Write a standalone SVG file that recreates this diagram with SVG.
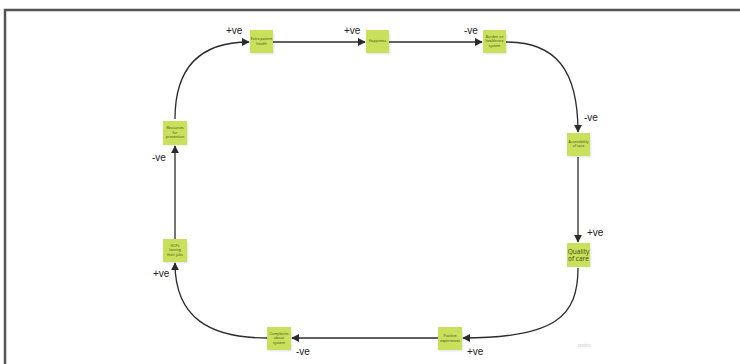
<svg xmlns="http://www.w3.org/2000/svg" width="740" height="364" viewBox="0 0 740 364">
  <style>
    .note rect.paper { fill: #c8e05c; }
    .note rect.shadow { fill: #000; opacity: 0.12; }
    .note text { font-family: "Open Sans", "Liberation Sans", sans-serif; font-size: 3.6px; fill: #3d4a10; text-anchor: middle; }
    .note text.big { font-size: 6.5px; }
    .lbl { font-family: "Liberation Sans", "Open Sans", sans-serif; font-size: 10px; fill: #222; }
    .conn path { fill: none; stroke: #2b2b2b; stroke-width: 1.3; marker-end: url(#arr); }
  </style>
  <defs>
    <marker id="arr" viewBox="0 0 10 10" refX="9" refY="5" markerWidth="8" markerHeight="8" orient="auto" markerUnits="userSpaceOnUse">
      <path d="M0,0 L10,5 L0,10 z" fill="#2b2b2b"/>
    </marker>
    <filter id="soft" x="-30%" y="-30%" width="160%" height="160%">
      <feGaussianBlur stdDeviation="1"/>
    </filter>
  </defs>

  <rect width="740" height="364" fill="#ffffff"/>
  <!-- frame -->
  <path d="M740,10 L5,10 L5,364" fill="none" stroke="#555" stroke-width="2.5"/>

  <!-- connectors -->
  <g id="connectors" class="conn">
    <path d="M175,119 C175,68 200,42 249,42"/>
    <path d="M273,42 L365,42"/>
    <path d="M389,42 L482,42"/>
    <path d="M506,42 C556,42 578,70 578,132"/>
    <path d="M578,157 L578,242"/>
    <path d="M578,268 C578,316 556,338 463,338"/>
    <path d="M438,338 L292,338"/>
    <path d="M267,338 C210,338 175,318 175,263"/>
    <path d="M175,239 L175,146"/>
  </g>

  <!-- polarity labels -->
  <g id="labels" class="lbl">
    <text x="226" y="34">+ve</text>
    <text x="344" y="34">+ve</text>
    <text x="464" y="34">-ve</text>
    <text x="584" y="121">-ve</text>
    <text x="587" y="236">+ve</text>
    <text x="467" y="355">+ve</text>
    <text x="296" y="355">-ve</text>
    <text x="153" y="277">+ve</text>
    <text x="152" y="161">-ve</text>
  </g>

  <!-- sticky notes -->
  <g id="n-extra-patient-health" class="note">
    <rect class="shadow" x="251" y="33" width="23" height="21" filter="url(#soft)"/>
    <rect class="paper" x="250" y="30" width="23" height="23"/>
    <text x="261.5" y="40">Extra patient</text>
    <text x="261.5" y="44.5">health</text>
  </g>
  <g id="n-happiness" class="note">
    <rect class="shadow" x="367" y="33" width="23" height="21" filter="url(#soft)"/>
    <rect class="paper" x="366" y="30" width="23" height="23"/>
    <text x="377.5" y="42">Happiness</text>
  </g>
  <g id="n-burden" class="note">
    <rect class="shadow" x="484" y="33" width="23" height="21" filter="url(#soft)"/>
    <rect class="paper" x="483" y="30" width="23" height="23"/>
    <text x="494.5" y="37.5">Burden on</text>
    <text x="494.5" y="42">healthcare</text>
    <text x="494.5" y="46.5">system</text>
  </g>
  <g id="n-accessibility" class="note">
    <rect class="shadow" x="568" y="136" width="23" height="21" filter="url(#soft)"/>
    <rect class="paper" x="567" y="133" width="23" height="23"/>
    <text x="578.5" y="142.5">Accessibility</text>
    <text x="578.5" y="147">of care</text>
  </g>
  <g id="n-quality" class="note">
    <rect class="shadow" x="568" y="246" width="23" height="21" filter="url(#soft)"/>
    <rect class="paper" x="567" y="243" width="23" height="24"/>
    <text class="big" x="578.5" y="253.5">Quality</text>
    <text class="big" x="578.5" y="261">of care</text>
  </g>
  <g id="n-positive" class="note">
    <rect class="shadow" x="439" y="330" width="24" height="21" filter="url(#soft)"/>
    <rect class="paper" x="438" y="327" width="24" height="23"/>
    <text x="450" y="337">Positive</text>
    <text x="450" y="341.5">experiences</text>
  </g>
  <g id="n-complaints" class="note">
    <rect class="shadow" x="268" y="330" width="24" height="21" filter="url(#soft)"/>
    <rect class="paper" x="267" y="327" width="24" height="23"/>
    <text x="279" y="334.5">Complaints</text>
    <text x="279" y="339">about</text>
    <text x="279" y="343.5">system</text>
  </g>
  <g id="n-hcps" class="note">
    <rect class="shadow" x="164" y="242" width="24" height="21" filter="url(#soft)"/>
    <rect class="paper" x="163" y="239" width="24" height="23"/>
    <text x="175" y="246.5">HCPs</text>
    <text x="175" y="251">leaving</text>
    <text x="175" y="255.5">their jobs</text>
  </g>
  <g id="n-resources" class="note">
    <rect class="shadow" x="164" y="124" width="24" height="21" filter="url(#soft)"/>
    <rect class="paper" x="163" y="121" width="24" height="24"/>
    <text x="175" y="129">Resources</text>
    <text x="175" y="133.5">for</text>
    <text x="175" y="138">prevention</text>
  </g>

  <text x="578" y="347" font-family="Liberation Sans, sans-serif" font-size="6" font-weight="bold" fill="#d8d8d8">miro</text>
</svg>
